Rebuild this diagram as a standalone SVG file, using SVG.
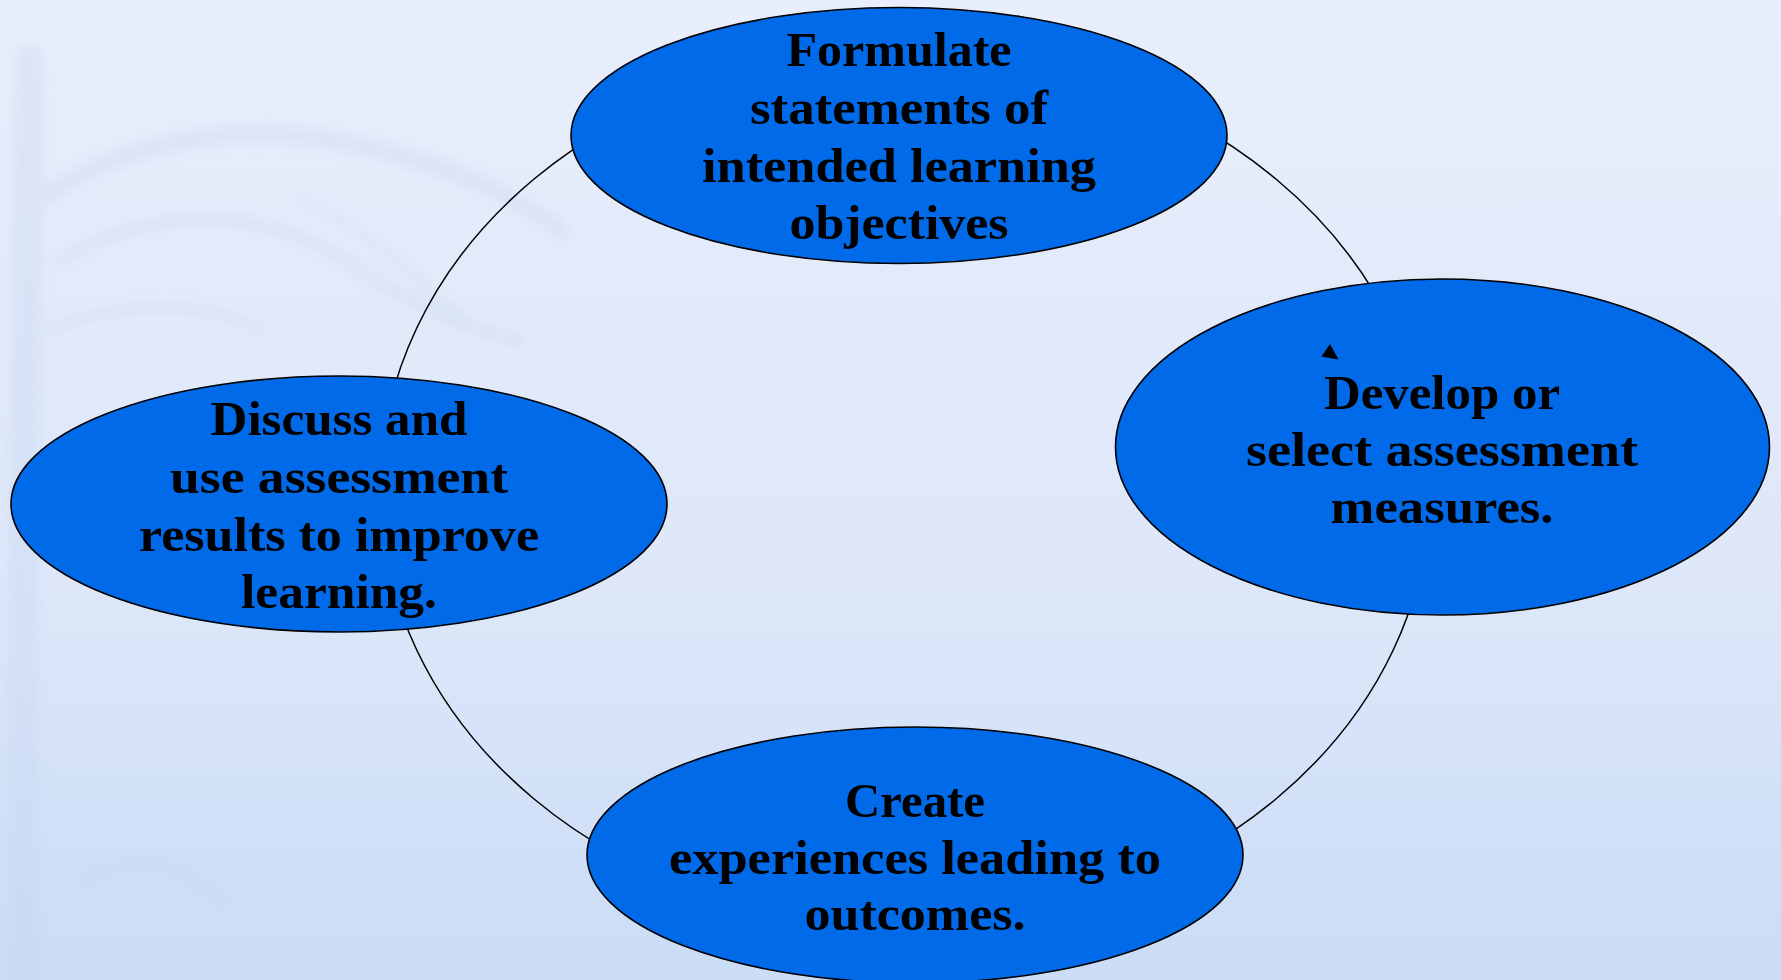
<svg xmlns="http://www.w3.org/2000/svg" width="1781" height="980" viewBox="0 0 1781 980">
  <defs>
    <linearGradient id="bg" x1="0" y1="0" x2="0" y2="1">
      <stop offset="0" stop-color="#e8eefb"/>
      <stop offset="0.6" stop-color="#dde7f9"/>
      <stop offset="1" stop-color="#cadcf6"/>
    </linearGradient>
    <filter id="soft" x="-10%" y="-10%" width="120%" height="120%">
      <feGaussianBlur stdDeviation="6"/>
    </filter>
    <style>
      .node { fill: #006ae9; stroke: #000; stroke-width: 1.6; }
      .label { font-family: "Liberation Serif", "DejaVu Serif", serif; font-weight: bold; font-size: 48px; fill: #000; text-anchor: middle; }
      .link { fill: none; stroke: #000; stroke-width: 1.5; }
    </style>
  </defs>

  <!-- backdrop -->
  <rect width="1781" height="980" fill="url(#bg)"/>
  <g opacity="0.3" filter="url(#soft)" fill="none" stroke="#c4d3ee" stroke-linecap="round">
    <path d="M25 980 C20 700 25 400 30 60" stroke-width="30"/>
    <path d="M40 200 C140 130 260 120 380 150 C460 170 520 200 560 230" stroke-width="18"/>
    <path d="M60 260 C160 200 280 210 360 270 C420 310 470 330 520 340" stroke-width="12"/>
    <path d="M50 330 C120 300 200 300 260 330" stroke-width="10"/>
    <path d="M300 200 C380 230 430 300 480 330" stroke-width="8"/>
    <path d="M80 880 C140 850 180 860 220 900" stroke-width="14"/>
  </g>

  <!-- cycle connector -->
  <g id="connectors">
    <ellipse class="link" cx="905" cy="489" rx="525" ry="438"/>
  </g>

  <g id="node-objectives">
    <ellipse class="node" cx="899" cy="135.5" rx="328" ry="128"/>
    <text class="label" x="899" y="66" textLength="225" lengthAdjust="spacingAndGlyphs">Formulate</text>
    <text class="label" x="899" y="124" textLength="298" lengthAdjust="spacingAndGlyphs">statements of</text>
    <text class="label" x="899" y="182" textLength="394" lengthAdjust="spacingAndGlyphs">intended learning</text>
    <text class="label" x="899" y="239" textLength="219" lengthAdjust="spacingAndGlyphs">objectives</text>
  </g>

  <g id="node-measures">
    <ellipse class="node" cx="1442.5" cy="447" rx="327" ry="168"/>
    <polygon points="1330,344 1321.5,356.5 1338.5,359.5" fill="#000"/>
    <text class="label" x="1442" y="409" textLength="236" lengthAdjust="spacingAndGlyphs">Develop or</text>
    <text class="label" x="1442" y="466" textLength="392" lengthAdjust="spacingAndGlyphs">select assessment</text>
    <text class="label" x="1442" y="523" textLength="223" lengthAdjust="spacingAndGlyphs">measures.</text>
  </g>

  <g id="node-experiences">
    <ellipse class="node" cx="915" cy="855" rx="328" ry="128"/>
    <text class="label" x="915" y="817" textLength="140" lengthAdjust="spacingAndGlyphs">Create</text>
    <text class="label" x="915" y="874" textLength="492" lengthAdjust="spacingAndGlyphs">experiences leading to</text>
    <text class="label" x="915" y="930" textLength="221" lengthAdjust="spacingAndGlyphs">outcomes.</text>
  </g>

  <g id="node-results">
    <ellipse class="node" cx="339" cy="504" rx="328" ry="128"/>
    <text class="label" x="339" y="435" textLength="257" lengthAdjust="spacingAndGlyphs">Discuss and</text>
    <text class="label" x="339" y="493" textLength="338" lengthAdjust="spacingAndGlyphs">use assessment</text>
    <text class="label" x="339" y="551" textLength="400" lengthAdjust="spacingAndGlyphs">results to improve</text>
    <text class="label" x="339" y="608" textLength="196" lengthAdjust="spacingAndGlyphs">learning.</text>
  </g>
</svg>
